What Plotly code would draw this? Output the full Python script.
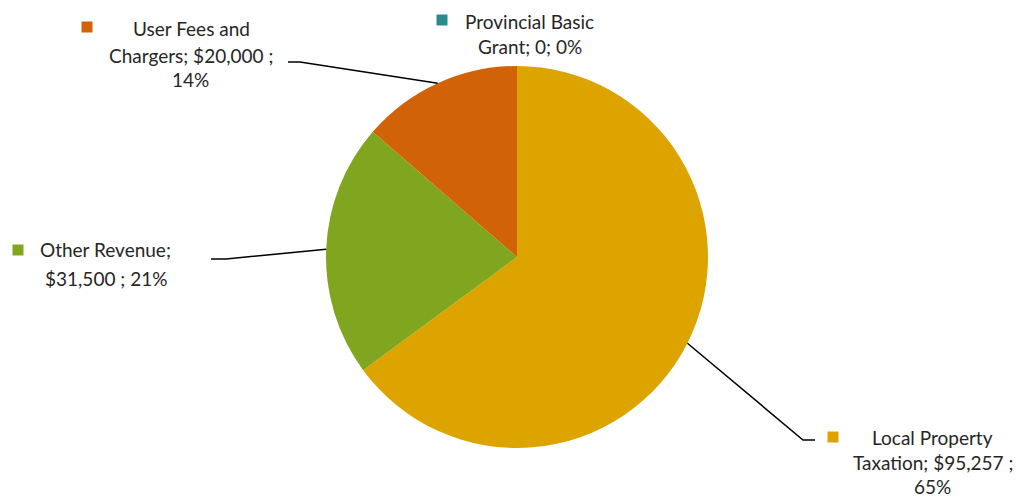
import math
import plotly.graph_objects as go

categories = ["Local Property Taxation", "Other Revenue", "User Fees and Chargers", "Provincial Basic Grant"]
values = [95257, 31500, 20000, 0]
value_labels = ["$95,257", "$31,500", "$20,000", "0"]
percent_labels = ["65%", "21%", "14%", "0%"]
colors = ["#DDA400", "#80A61F", "#D26207", "#2C8A8A"]

W, H = 1017, 499
FONT = "Lato"
FS = 19
TXT = "#262626"

# pie geometry in reference pixels
cx, cy, r = 517, 257, 191

def px(x):
    return x / W

def py(y):
    return 1 - y / H

fig = go.Figure(go.Pie(
    labels=categories, values=values, sort=False, direction="clockwise",
    rotation=0, marker=dict(colors=colors, line=dict(width=0)),
    textinfo="none", hoverinfo="label+value+percent", showlegend=False,
    domain=dict(x=[px(cx - r), px(cx + r)], y=[py(cy + r), py(cy - r)]),
))

label_layout = {
    "Local Property Taxation": dict(
        lines=[("Local Property", 932, 437), ("Taxation; " + value_labels[0] + " ;", 933, 462), (percent_labels[0], 932, 486)],
        key=(833, 437), elbow=(803, 440), end=(815, 440)),
    "Other Revenue": dict(
        lines=[("Other Revenue;", 105, 250), (value_labels[1] + " ; " + percent_labels[1], 106, 278)],
        key=(18, 250), elbow=(226, 259), end=(211, 259)),
    "User Fees and Chargers": dict(
        lines=[("User Fees and", 191, 28), ("Chargers; " + value_labels[2] + " ;", 191, 55), (percent_labels[2], 190, 80)],
        key=(87, 27), elbow=(300, 62), end=(288, 62)),
    "Provincial Basic Grant": dict(
        lines=[("Provincial Basic", 529, 21), ("Grant; " + value_labels[3] + "; " + percent_labels[3], 530, 47)],
        key=(442, 20), elbow=None, end=None),
}

annotations = []
shapes = []
total = sum(values)
cum = 0
for cat, v, col in zip(categories, values, colors):
    lay = label_layout[cat]
    for text, x, y in lay["lines"]:
        annotations.append(dict(x=px(x), y=py(y), xref="paper", yref="paper", text=text,
                                showarrow=False, xanchor="center", yanchor="middle",
                                font=dict(family=FONT, size=FS, color=TXT)))
    kx, ky = lay["key"]
    shapes.append(dict(type="rect", xref="paper", yref="paper",
                       x0=px(kx - 5.5), x1=px(kx + 5.5), y0=py(ky + 5.5), y1=py(ky - 5.5),
                       fillcolor=col, line=dict(width=0)))
    if v > 0 and lay["elbow"] is not None:
        mid = (cum + v / 2) / total * 2 * math.pi
        sx = cx + r * math.sin(mid)
        sy = cy - r * math.cos(mid)
        ex, ey = lay["elbow"]
        tx, ty = lay["end"]
        path = f"M {px(sx)},{py(sy)} L {px(ex)},{py(ey)} L {px(tx)},{py(ty)}"
        shapes.append(dict(type="path", xref="paper", yref="paper", path=path,
                           line=dict(color="#000000", width=1.5)))
    cum += v

fig.update_layout(
    width=W, height=H, margin=dict(l=0, r=0, t=0, b=0),
    paper_bgcolor="white", plot_bgcolor="white",
    annotations=annotations, shapes=shapes,
)

fig.write_html(
    "out.html",
    config={"displayModeBar": False},
    post_script="document.body.style.margin='0';document.body.style.overflow='hidden';"
                "document.documentElement.style.overflow='hidden';",
)
